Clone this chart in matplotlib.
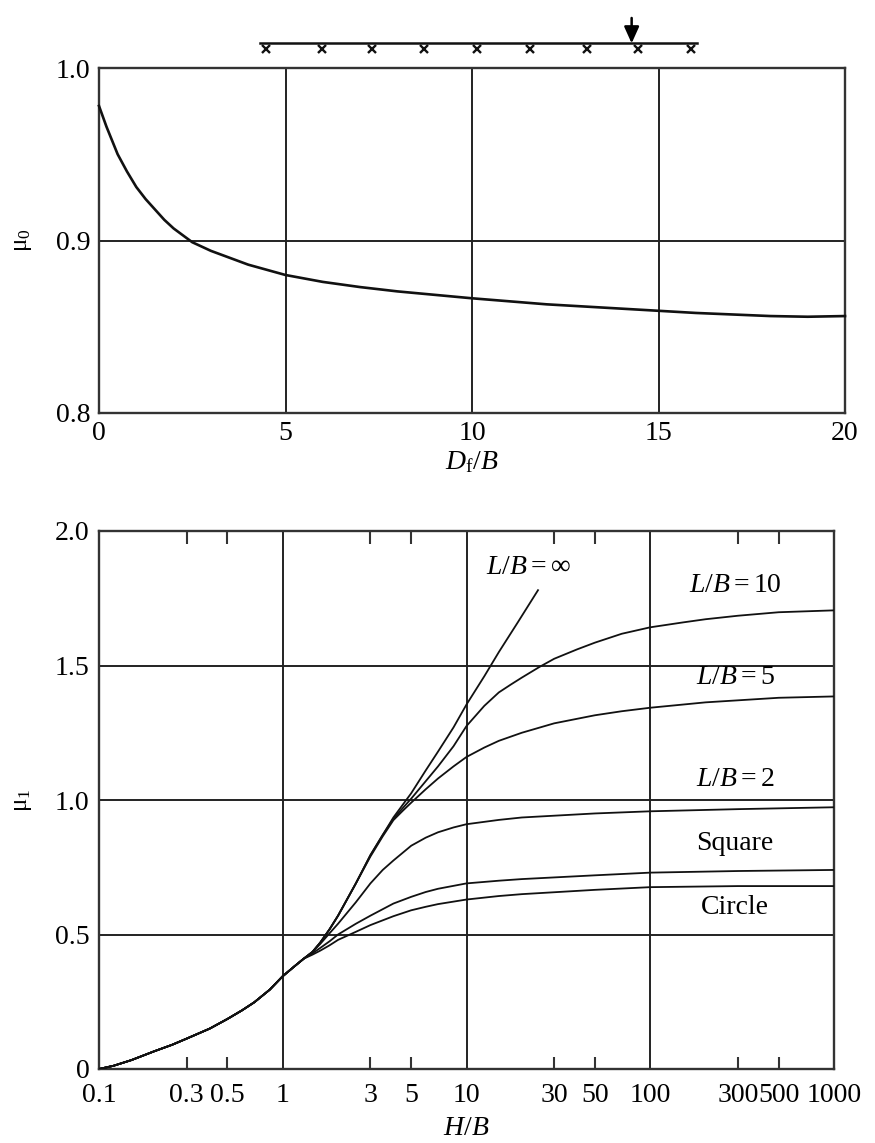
import matplotlib
matplotlib.use("Agg")
import matplotlib.pyplot as plt
from matplotlib.ticker import FixedLocator

plt.rcParams['font.family'] = ['Liberation Serif', 'DejaVu Serif']
plt.rcParams['mathtext.fontset'] = 'custom'
plt.rcParams['mathtext.rm'] = 'Liberation Serif'
plt.rcParams['mathtext.it'] = 'Liberation Serif:italic'
plt.rcParams['mathtext.bf'] = 'Liberation Serif:bold'

# ---------------- data: top chart ----------------
df_b = [0, 0.1, 0.2, 0.35, 0.5, 0.75, 1.0, 1.25, 1.5, 1.75, 2.0, 2.5, 3, 3.5, 4,
        5, 6, 7, 8, 10, 12, 14, 16, 18, 19, 20]
mu0 = [0.978, 0.972, 0.966, 0.958, 0.950, 0.940, 0.931, 0.924, 0.918, 0.912,
       0.907, 0.899, 0.894, 0.890, 0.886, 0.880, 0.876, 0.873, 0.8705, 0.8665,
       0.863, 0.8605, 0.858, 0.8562, 0.8558, 0.8562]

# schematic: pile positions (Df/B units) and load arrow
pile_x = [4.48, 5.99, 7.31, 8.72, 10.14, 11.56, 13.08, 14.46, 15.87]
beam_x = [4.32, 16.03]
load_x = 14.28

# ---------------- data: bottom chart ----------------
hb_common = [0.1, 0.12, 0.15, 0.2, 0.25, 0.3, 0.4, 0.5, 0.6, 0.7, 0.85, 1.0, 1.15, 1.3]
mu_common = [0.0, 0.012, 0.033, 0.066, 0.09, 0.113, 0.15, 0.186, 0.218, 0.248,
             0.295, 0.345, 0.38, 0.41]

hb_inf = [1.45, 1.6, 1.8, 2, 2.5, 3, 3.5, 4, 5, 6, 7, 8.5, 10, 12.5, 15, 19, 24.5]
mu_inf = [0.435, 0.47, 0.52, 0.57, 0.69, 0.795, 0.87, 0.935, 1.025, 1.11, 1.18,
          1.27, 1.355, 1.46, 1.55, 1.66, 1.78]

hb_10 = [1.45, 1.6, 1.8, 2, 2.5, 3, 3.5, 4, 4.5, 5, 6, 7, 8.5, 10, 12.5, 15, 17.5,
         20, 25, 30, 40, 50, 70, 100, 150, 200, 300, 500, 1000]
mu_10 = [0.435, 0.47, 0.52, 0.57, 0.69, 0.795, 0.87, 0.93, 0.97, 1.005, 1.07,
         1.125, 1.20, 1.275, 1.35, 1.40, 1.43, 1.455, 1.495, 1.525, 1.56, 1.585,
         1.618, 1.642, 1.66, 1.672, 1.685, 1.698, 1.705]

hb_5 = [1.45, 1.6, 1.8, 2, 2.5, 3, 3.5, 4, 4.5, 5, 6, 7, 8.5, 10, 12.5, 15, 20,
        30, 50, 70, 100, 200, 500, 1000]
mu_5 = [0.435, 0.47, 0.52, 0.57, 0.69, 0.79, 0.865, 0.925, 0.96, 0.99, 1.04,
        1.08, 1.125, 1.16, 1.195, 1.22, 1.25, 1.285, 1.315, 1.33, 1.343, 1.363,
        1.38, 1.385]

hb_2 = [1.45, 1.6, 1.8, 2, 2.5, 3, 3.5, 4, 5, 6, 7, 8.5, 10, 15, 20, 50, 100,
        300, 1000]
mu_2 = [0.435, 0.465, 0.505, 0.54, 0.62, 0.69, 0.74, 0.775, 0.83, 0.86, 0.88,
        0.898, 0.91, 0.926, 0.935, 0.95, 0.958, 0.966, 0.973]

hb_sq = [1.45, 1.6, 1.8, 2, 2.5, 3, 4, 5, 6, 7, 10, 15, 20, 50, 100, 300, 1000]
mu_sq = [0.43, 0.45, 0.475, 0.50, 0.54, 0.57, 0.615, 0.64, 0.658, 0.67, 0.69,
         0.70, 0.706, 0.72, 0.73, 0.736, 0.74]

hb_ci = [1.45, 1.6, 1.8, 2, 2.5, 3, 4, 5, 6, 7, 10, 15, 20, 50, 100, 300, 1000]
mu_ci = [0.425, 0.44, 0.46, 0.48, 0.51, 0.535, 0.568, 0.59, 0.603, 0.613, 0.63,
         0.643, 0.65, 0.666, 0.676, 0.68, 0.68]

xticks_major = [0.1, 1, 10, 100, 1000]
xticks_minor = [0.3, 0.5, 3, 5, 30, 50, 300, 500]
xlabels_major = ['0.1', '1', '10', '100', '1000']
xlabels_minor = ['0.3', '0.5', '3', '5', '30', '50', '300', '500']

labels = [r'$L/B = \infty$', r'$L/B = 10$', r'$L/B = 5$', r'$L/B = 2$', 'Square', 'Circle']

# ---------------- figure ----------------
W, H = 875, 1143
fig = plt.figure(figsize=(W / 100, H / 100), dpi=100)

spine_c = '#333333'
grid_c = '#222222'
line_c = '#111111'
FS = 20

# ---- top axes ----
ax1 = fig.add_axes([99 / W, 1 - 413 / H, (845 - 99) / W, (413 - 68) / H])
ax1.set_xlim(0, 20)
ax1.set_ylim(0.8, 1.0)
for x in [5, 10, 15]:
    ax1.axvline(x, color=grid_c, lw=1.4, zorder=1)
ax1.axhline(0.9, color=grid_c, lw=1.4, zorder=1)
ax1.plot(df_b, mu0, color=line_c, lw=1.9, zorder=3, clip_on=False,
         solid_joinstyle='round')
ax1.set_xticks([0, 5, 10, 15, 20])
ax1.set_yticks([0.8, 0.9, 1.0])
ax1.set_yticklabels(['0.8', '0.9', '1.0'])
ax1.tick_params(length=0, labelsize=FS, pad=6)
for s in ax1.spines.values():
    s.set_color(spine_c)
    s.set_linewidth(1.7)
ax1.set_xlabel(r'$D_{\mathrm{f}}/B$', fontsize=FS, labelpad=2)
fig.text(22 / W, 1 - 240 / H, r'$\mathrm{\mu}_0$', fontsize=18, rotation=90,
         ha='center', va='center', family='DejaVu Sans')

# schematic above the top chart
beam_y = 1.0143
ax1.plot(beam_x, [beam_y, beam_y], color=line_c, lw=1.8, clip_on=False)
ax1.plot(pile_x, [1.0108] * len(pile_x), ls='none', marker='x', ms=6, mew=1.7,
         color=line_c, clip_on=False)
ax1.annotate('', xy=(load_x, beam_y), xytext=(load_x, 1.0290),
             xycoords='data', textcoords='data', annotation_clip=False,
             arrowprops=dict(arrowstyle='-|>,head_width=0.45,head_length=1.0',
                             color='black', lw=1.8, shrinkA=0, shrinkB=0))

# ---- bottom axes ----
ax2 = fig.add_axes([99 / W, 1 - 1069 / H, (834 - 99) / W, (1069 - 531) / H])
ax2.set_xscale('log')
ax2.set_xlim(0.1, 1000)
ax2.set_ylim(0, 2.0)
for x in [1, 10, 100]:
    ax2.axvline(x, color=grid_c, lw=1.4, zorder=1)
for y in [0.5, 1.0, 1.5]:
    ax2.axhline(y, color=grid_c, lw=1.4, zorder=1)

series = [(hb_inf, mu_inf), (hb_10, mu_10), (hb_5, mu_5), (hb_2, mu_2),
          (hb_sq, mu_sq), (hb_ci, mu_ci)]
for xs, ys in series:
    ax2.plot(hb_common + xs, mu_common + ys, color=line_c, lw=1.3, zorder=3,
             solid_joinstyle='round')

ax2.xaxis.set_major_locator(FixedLocator(xticks_major))
ax2.xaxis.set_minor_locator(FixedLocator(xticks_minor))
ax2.set_xticklabels(xlabels_major)
ax2.set_xticklabels(xlabels_minor, minor=True)
ax2.set_yticks([0, 0.5, 1.0, 1.5, 2.0])
ax2.set_yticklabels(['0', '0.5', '1.0', '1.5', '2.0'])
ax2.tick_params(which='major', length=0, labelsize=FS, pad=10)
ax2.tick_params(axis='y', which='major', pad=7)
ax2.tick_params(axis='x', which='minor', direction='in', length=9, width=1.5,
                color=spine_c, top=True, bottom=True, labelsize=FS, pad=10)
for s in ax2.spines.values():
    s.set_color(spine_c)
    s.set_linewidth(1.7)
ax2.set_xlabel(r'$H/B$', fontsize=FS, labelpad=6)
fig.text(22 / W, 1 - 800 / H, r'$\mathrm{\mu}_1$', fontsize=18, rotation=90,
         ha='center', va='center', family='DejaVu Sans')

# curve labels
label_pos = [(528, 567), (735, 585), (735, 677), (735, 780), (735, 844), (735, 908)]
for txt, (px, py) in zip(labels, label_pos):
    fig.text(px / W, 1 - py / H, txt, fontsize=FS, ha='center', va='center')

fig.savefig('out.png', dpi=100)
